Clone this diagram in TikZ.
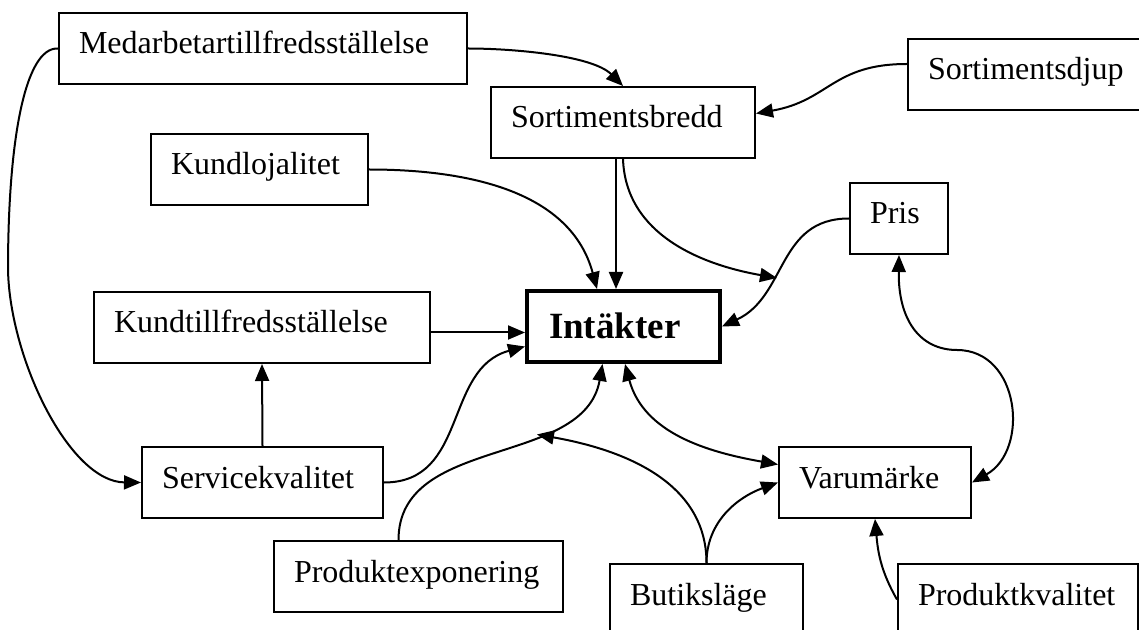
\documentclass[tikz,border=0pt]{standalone}
\usepackage{fontspec}
\setmainfont{Liberation Serif}
\usetikzlibrary{arrows.meta}
\hyphenpenalty=10000
\tikzset{
  >={Triangle[length=8.5pt,width=7pt]},
  factor/.style={draw,line width=1pt,anchor=north west,inner xsep=10pt,inner ysep=0pt,
    text height=20.5pt,text depth=15pt,align=left,font=\fontsize{16}{19}\selectfont},
  core/.style={factor,line width=2pt,inner xsep=11pt,text height=23.5pt,text depth=12pt,
    font=\bfseries\fontsize{18.5}{22}\selectfont},
  link/.style={line width=1pt,->},
}
\begin{document}
\begin{tikzpicture}[x=0.5pt,y=0.5pt]
\useasboundingbox (0,0) rectangle (1139,-630);
\node[factor,text width=184pt] (medarb) at (58,-12) {Medarbetartillfredsställelse};
\node[factor,text width=112pt] (sbredd) at (490,-86) {Sortimentsbredd};
\node[factor,text width=101.5pt] (sdjup) at (907,-38) {Sortimentsdjup};
\node[factor,text width=88.5pt] (kundloj) at (150,-133) {Kundlojalitet};
\node[factor,text width=29pt] (pris) at (849,-182) {Pris};
\node[factor,text width=148pt] (kundtill) at (93,-291) {Kundtillfredsställelse};
\node[core,text width=74.5pt] (intakt) at (525,-289) {Intäkter};
\node[factor,text width=100.5pt] (service) at (141,-446) {Servicekvalitet};
\node[factor,text width=124.5pt] (prodexp) at (273,-540) {Produktexponering};
\node[factor,text width=76.5pt] (butik) at (609,-563) {Butiksläge};
\node[factor,text width=76pt] (varum) at (778,-446) {Varumärke};
\node[factor,text width=100pt] (prodkval) at (897,-563) {Produktkvalitet};

\draw[link] (medarb.east) to[out=0,in=135,looseness=0.7] (sbredd.north);
\draw[link] (medarb.west) .. controls (25,-47) and (8,-140) .. (8,-270)
  .. controls (10,-360) and (70,-482) .. (service.west);
\draw[link] ([yshift=-13pt]sdjup.north west) to[out=180,in=10,looseness=1.2] ([yshift=4.5pt]sbredd.east);
\coordinate (sbv) at ([xshift=-3.5pt]sbredd.south);
\draw[link] (sbv) -- (sbv |- intakt.north);
\coordinate (prisarm) at (777,-278);
\draw[link] (sbredd.south) to[out=-88,in=170] (prisarm);
\draw[link] (kundloj.east) to[out=0,in=105] ([xshift=36pt]intakt.north west);
\coordinate (ktr) at ([yshift=-2.5pt]kundtill.east);
\draw[link] (ktr) -- (ktr -| intakt.west);
\draw[link] (service.north) -- (kundtill.south);
\draw[link] (service.east) to[out=0,in=195,looseness=1.1] ([yshift=-10pt]intakt.west);
\draw[link] (pris.west) to[out=180,in=25,looseness=1.1] (intakt.east);
\draw[link] ([xshift=-10pt]prodexp.north) to[out=90,in=-100] coordinate[pos=0.65] (exparm)
  ([xshift=-10.5pt]intakt.south);
\draw[link] (butik.north) to[out=90,in=-10] (exparm);
\draw[link] (butik.north) to[out=90,in=200] (varum.west);
\draw[link,<->] ([xshift=0.75pt]intakt.south) to[out=-75,in=170] ([yshift=9pt]varum.west);
\draw[link] (prodkval.west) to[out=120,in=-85] (varum.south);
\draw[link,<->] (pris.south) .. controls (898,-320) and (920,-350) .. (957,-350)
  .. controls (1020,-350) and (1030,-450) .. (varum.east);
\end{tikzpicture}
\end{document}
